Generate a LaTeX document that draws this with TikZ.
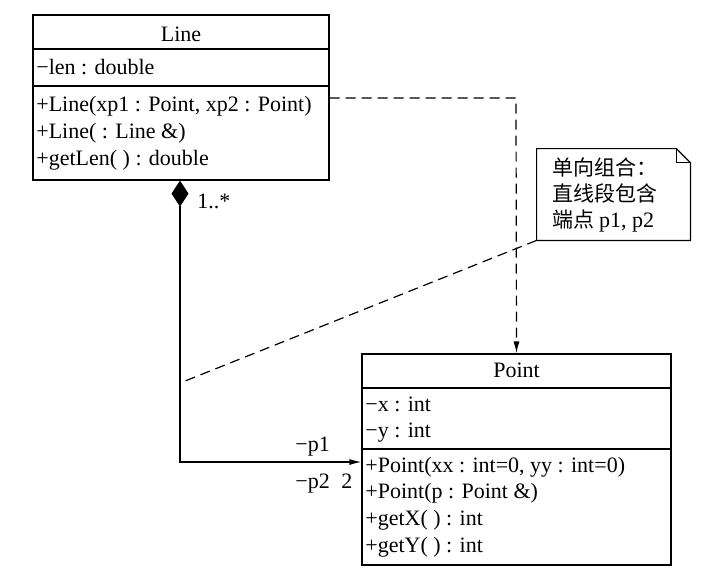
\documentclass[tikz,border=0pt]{standalone}
\usepackage{fontspec}
\setmainfont{Liberation Serif}
\newfontfamily\cjk{Noto Sans CJK SC}
\usetikzlibrary{arrows.meta,calc}

\tikzset{
  umlbox/.style={draw, line width=0.6pt, inner sep=0pt},
  member/.style={anchor=base west, inner sep=0pt, font=\fontsize{11}{12}\selectfont},
  title/.style={anchor=base, inner sep=0pt, font=\fontsize{11}{12}\selectfont},
  notetext/.style={anchor=base west, inner sep=0pt, font=\cjk\fontsize{10.5}{12}\selectfont},
  dashline/.style={line width=0.6pt, dash pattern=on 5pt off 3pt},
}

\begin{document}
\begin{tikzpicture}[x=0.5pt, y=-0.5pt]
			%%%%% START %%%%%
			\useasboundingbox (0,0) rectangle (714,586);
			
			% class Line
			\node[umlbox, minimum width=148pt, minimum height=82.5pt] (line) at (181, 97.5) {};
			\draw[line width=0.6pt] (33, 49) -- (329, 49);
			\draw[line width=0.6pt] (33, 86) -- (329, 86);
			\node[title] (linename) at (181, 41) {Line};
			\node[member] (linelen) at (36, 74) {−len : double};
			\node[member] (lineop1) at (36, 111) {+Line(xp1 : Point, xp2 : Point)};
			\node[member] (lineop2) at (36, 138) {+Line( : Line \&)};
			\node[member] (lineop3) at (36, 165) {+getLen( ) : double};
			
			% class Point
			\node[umlbox, minimum width=154.5pt, minimum height=105.5pt] (point) at (516.5, 459.5) {};
			\draw[line width=0.6pt] (362, 388) -- (671, 388);
			\draw[line width=0.6pt] (362, 449) -- (671, 449);
			\node[title] (pointname) at (516.5, 377) {Point};
			\node[member] (pointx) at (365, 411) {−x : int};
			\node[member] (pointy) at (365, 437) {−y : int};
			\node[member] (pointop1) at (365, 472) {+Point(xx : int=0, yy : int=0)};
			\node[member] (pointop2) at (365, 498) {+Point(p : Point \&)};
			\node[member] (pointop3) at (365, 525) {+getX( ) : int};
			\node[member] (pointop4) at (365, 552) {+getY( ) : int};
			
			% note
			\node[inner sep=0pt, minimum width=76.5pt, minimum height=45.5pt] (note) at (613.5, 194.5) {};
			\draw[line width=0.6pt] (note.north west) -- ($(note.north east)+(-14, 0)$) -- ($(note.north east)+(0, 14)$) -- (note.south east) -- (note.south west) -- cycle;
			\draw[line width=0.6pt] ($(note.north east)+(-14, 0)$) -- ($(note.north east)+(-14, 14)$) -- ($(note.north east)+(0, 14)$);
			\node[notetext] (note1) at (552, 175) {单向组合：};
			\node[notetext] (note2) at (552, 201) {直线段包含};
			\node[notetext] (note3) at (552, 227) {端点 {\rmfamily\fontsize{11}{12}\selectfont p1, p2}};
			
			% dependency
			\coordinate (dep) at (516, 98);
			\draw[dashline, -{Latex[length=6pt, width=3pt]}] (line.east |- dep) -- (dep) -- (point.north);
			
			% composition
			\coordinate (comp) at (180, 462);
			\draw[line width=0.6pt, {Diamond[length=13pt, width=8.5pt]}-{Latex[length=6pt, width=3pt]}] (line.south -| comp) -- (comp) -- (point.west |- comp);
			\node[member] (multline) at (197, 208) {1..*};
			\node[member] (rolep1) at (295, 451) {−p1};
			\node[member] (rolep2) at (295, 488) {−p2};
			\node[member] (multpoint) at (341, 488) {2};
			
			% note anchor
			\coordinate (hook) at (180, 383);
			\draw[dashline] (note.south west) -- (hook);
			
			%%%%% END %%%%%
		\end{tikzpicture}
\end{document}
